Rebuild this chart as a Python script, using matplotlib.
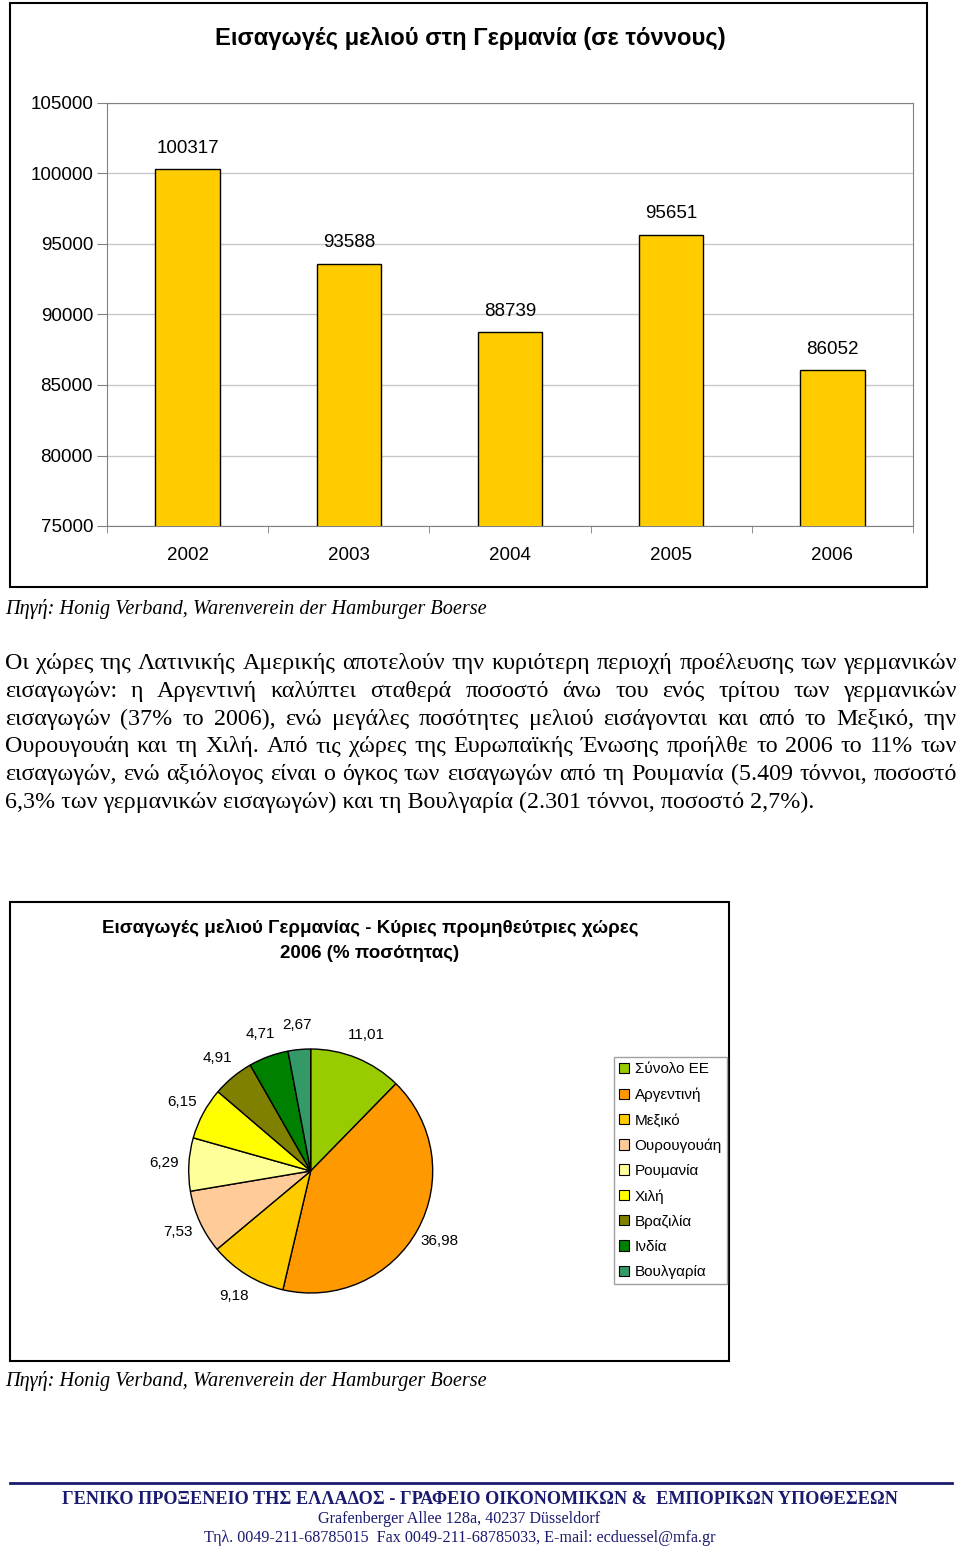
import matplotlib
matplotlib.use('Agg')
import matplotlib.pyplot as plt
from matplotlib.patches import Rectangle, Patch
from matplotlib.lines import Line2D
import numpy as np

W, H = 960, 1554

years = ['2002', '2003', '2004', '2005', '2006']
imports_tonnes = [100317, 93588, 88739, 95651, 86052]

countries = ['Σύνολο ΕΕ', 'Αργεντινή', 'Μεξικό', 'Ουρουγουάη', 'Ρουμανία',
             'Χιλή', 'Βραζιλία', 'Ινδία', 'Βουλγαρία']
shares = [11.01, 36.98, 9.18, 7.53, 6.29, 6.15, 4.91, 4.71, 2.67]
pie_colors = ['#99CC00', '#FF9900', '#FFCC00', '#FFCC99', '#FFFF99',
              '#FFFF00', '#808000', '#008000', '#339966']

bar_title = 'Εισαγωγές μελιού στη Γερμανία (σε τόννους)'
pie_title = ['Εισαγωγές μελιού Γερμανίας - Κύριες προμηθεύτριες χώρες',
             '2006 (% ποσότητας)']
source = 'Πηγή: Honig Verband, Warenverein der Hamburger Boerse'

paragraph = [
    'Οι χώρες της Λατινικής Αμερικής αποτελούν την κυριότερη περιοχή προέλευσης των γερμανικών',
    'εισαγωγών: η Αργεντινή καλύπτει σταθερά ποσοστό άνω του ενός τρίτου των γερμανικών',
    'εισαγωγών (37% το 2006), ενώ μεγάλες ποσότητες μελιού εισάγονται και από το Μεξικό, την',
    'Ουρουγουάη και τη Χιλή. Από τις χώρες της Ευρωπαϊκής Ένωσης προήλθε το 2006 το 11% των',
    'εισαγωγών, ενώ αξιόλογος είναι ο όγκος των εισαγωγών από τη Ρουμανία (5.409 τόννοι, ποσοστό',
    '6,3% των γερμανικών εισαγωγών) και τη Βουλγαρία (2.301 τόννοι, ποσοστό 2,7%).',
]

footer = [
    'ΓΕΝΙΚΟ ΠΡΟΞΕΝΕΙΟ ΤΗΣ ΕΛΛΑΔΟΣ - ΓΡΑΦΕΙΟ ΟΙΚΟΝΟΜΙΚΩΝ &  ΕΜΠΟΡΙΚΩΝ ΥΠΟΘΕΣΕΩΝ',
    'Grafenberger Allee 128a, 40237 Düsseldorf',
    'Τηλ. 0049-211-68785015  Fax 0049-211-68785033, E-mail: ecduessel@mfa.gr',
]

SANS = ['Liberation Sans', 'DejaVu Sans']
SERIF = ['Liberation Serif', 'DejaVu Serif']
NAVY = '#1a1a6e'

plt.rcParams['font.family'] = SANS


def fx(x):
    return x / W


def fy(y):
    return 1 - y / H


def box(x0, y0, x1, y1):
    return [fx(x0), fy(y1), (x1 - x0) / W, (y1 - y0) / H]


fig = plt.figure(figsize=(W / 100, H / 100), dpi=100)
renderer = fig.canvas.get_renderer()


def text_width(t):
    return t.get_window_extent(renderer).width


def fit_text(x, y, s, width, **kw):
    # scale the font size so the text spans the given pixel width
    t = fig.text(fx(x), fy(y), s, fontsize=10, **kw)
    t.set_fontsize(10 * width / text_width(t))
    return t


def justified(lines, x0, x1, base0, step, size):
    for i, line in enumerate(lines):
        y = fy(base0 + i * step)
        if i == len(lines) - 1:
            fig.text(fx(x0), y, line, family=SERIF, fontsize=size, va='baseline')
            continue
        words = line.split()
        texts = [fig.text(0, y, w, family=SERIF, fontsize=size, va='baseline') for w in words]
        widths = [text_width(t) for t in texts]
        gap = (x1 - x0 - sum(widths)) / (len(words) - 1)
        pos = x0
        for t, w in zip(texts, widths):
            t.set_x(fx(pos))
            pos += w + gap


# frames around the two charts
fig.add_artist(Rectangle((fx(10), fy(587)), 917 / W, 584 / H, transform=fig.transFigure,
                         fill=False, ec='black', lw=1.5))
fig.add_artist(Rectangle((fx(10), fy(1361)), 719 / W, 459 / H, transform=fig.transFigure,
                         fill=False, ec='black', lw=1.5))

# bar chart
ax = fig.add_axes(box(107, 103, 913, 526))
x = np.arange(len(years))
bars = ax.bar(x, imports_tonnes, width=0.4, color='#FFCC00', edgecolor='black',
              linewidth=1, zorder=3)
ax.set_xlim(-0.5, len(years) - 0.5)
ax.set_ylim(75000, 105000)
ax.set_yticks(range(75000, 105001, 5000))
ax.yaxis.grid(True, color='#c8c8c8', lw=1)
ax.set_axisbelow(True)
ax.set_xticks(x, years)
ax.set_xticks(np.arange(-0.5, len(years)), minor=True)
ax.tick_params(axis='x', which='major', length=0, pad=15, labelsize=13.5)
ax.tick_params(axis='x', which='minor', length=5, color='#808080')
ax.tick_params(axis='y', length=7, color='#808080', pad=3, labelsize=13.5)
for s in ax.spines.values():
    s.set_color('#808080')
for b, v in zip(bars, imports_tonnes):
    ax.annotate(str(v), (b.get_x() + b.get_width() / 2, v), xytext=(0, 9),
                textcoords='offset points', ha='center', va='bottom', fontsize=13.5)

fig.text(fx(470.5), fy(38), bar_title, ha='center', va='center', fontsize=17.1,
         fontweight='bold')

fig.text(fx(5), fy(614), source, family=SERIF, style='italic', fontsize=14.6, va='baseline')
justified(paragraph, 5, 957, 669, 27.8, 17.3)

# pie chart
pax = fig.add_axes(box(188.7, 1049, 432.7, 1293))
labels = [f'{v:.2f}'.replace('.', ',') for v in shares]
pax.pie(shares, colors=pie_colors, labels=labels, startangle=90, counterclock=False,
        labeldistance=1.2, wedgeprops=dict(edgecolor='black', linewidth=1),
        textprops=dict(fontsize=11, ha='center', va='center'))
pax.set_xlim(-1, 1)
pax.set_ylim(-1, 1)
pax.set_aspect('equal')
pax.axis('off')

for i, line in enumerate(pie_title):
    fig.text(fx(370), fy(928 + 25 * i), line, ha='center', va='center',
             fontsize=13.5, fontweight='bold')

handles = [Patch(facecolor=c, edgecolor='black', linewidth=0.8) for c in pie_colors]
fig.legend(handles, countries, loc='upper left', bbox_to_anchor=(fx(614), fy(1057)),
           frameon=True, fancybox=False, edgecolor='#a0a0a0', fontsize=11,
           handlelength=0.65, handleheight=0.65, handletextpad=0.35, labelspacing=0.73,
           borderpad=0.35, borderaxespad=0, framealpha=1)

fig.text(fx(5), fy(1386), source, family=SERIF, style='italic', fontsize=14.6, va='baseline')

# footer
fig.add_artist(Line2D([fx(10), fx(952)], [fy(1483), fy(1483)], color=NAVY, lw=2))
fit_text(480, 1499, footer[0], 834, family=SERIF, fontweight='bold', color=NAVY,
         ha='center', va='center')
fit_text(459, 1519, footer[1], 282, family=SERIF, color=NAVY, ha='center', va='center')
fit_text(459.5, 1538, footer[2], 511, family=SERIF, color=NAVY, ha='center', va='center')

fig.savefig('out.png', dpi=100)
